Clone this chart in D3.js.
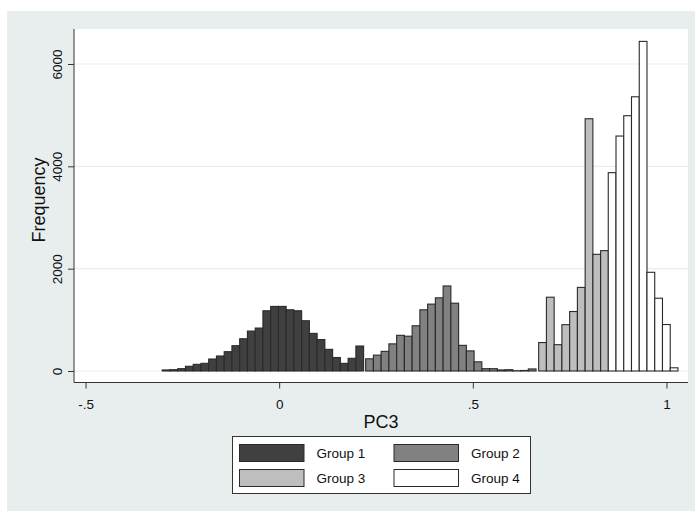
<!DOCTYPE html>
<html>
<head>
<meta charset="utf-8">
<script src="https://cdn.jsdelivr.net/npm/d3@7"></script>
<style>
  body { margin: 0; background: #fff; }
  text { font-family: "Liberation Sans", Arial, Helvetica, sans-serif; fill: #111; }
</style>
</head>
<body>
<div id="vis"></div>
<script>
// histogram bins, one list per group (width .02, each group has its own start)
const binWidth = 0.02;
const groupNames = ['Group 1', 'Group 2', 'Group 3', 'Group 4'];
const groupStarts = [-0.302, 0.2233, 0.670, 0.8497];
const group1 = [20, 25, 45, 92, 130, 150, 234, 293, 377, 494, 630, 780, 839,
  1177, 1262, 1262, 1196, 1177, 982, 735, 614, 423, 263, 150, 248, 488];
const group2 = [238, 310, 384, 530, 697, 680, 884, 1196, 1307, 1430, 1662, 1325,
  501, 393, 179, 45, 45, 20, 25, 5, 10, 40];
const group3 = [556, 1442, 514, 905, 1162, 1634, 4930, 2280, 2352];
const group4 = [3876, 4592, 4989, 5359, 6442, 1929, 1422, 908, 62];
const groupColours = ['#404040', '#818181', '#bebebe', '#ffffff'];

const xTicks = [-0.5, 0, 0.5, 1];
const xTickLabels = ['-.5', '0', '.5', '1'];
const yTicks = [0, 2000, 4000, 6000];

const W = 695, H = 511;
const margin = { top: 29, right: 7, bottom: 128.5, left: 74 };

const $svg = d3.select('#vis').append('svg')
  .attr('width', W)
  .attr('height', H);

// graph region
$svg.append('rect')
  .attr('x', 7).attr('y', 11)
  .attr('width', W - 7).attr('height', H - 11)
  .attr('fill', '#e8eeee');

const x = d3.scaleLinear()
  .domain([-0.5298, 1.0556])
  .range([margin.left, W - margin.right]);
const y = d3.scaleLinear()
  .domain([-225, 6684])
  .range([H - margin.bottom, margin.top]);

// plot region
$svg.append('rect')
  .attr('x', margin.left).attr('y', margin.top)
  .attr('width', W - margin.right - margin.left)
  .attr('height', H - margin.bottom - margin.top)
  .attr('fill', '#fff');

// grid
$svg.append('g').attr('class', 'grid')
  .selectAll('line')
  .data(yTicks)
  .enter().append('line')
  .attr('x1', margin.left).attr('x2', W - margin.right)
  .attr('y1', d => y(d)).attr('y2', d => y(d))
  .attr('stroke', '#e6eeee')
  .attr('stroke-width', 1.2);

// bars
const groups = [group1, group2, group3, group4].map((counts, g) => {
  return {
    name: groupNames[g],
    colour: groupColours[g],
    bins: counts.map((c, i) => ({
      x0: groupStarts[g] + i * binWidth,
      x1: groupStarts[g] + (i + 1) * binWidth,
      count: c
    }))
  };
});

const $bars = $svg.append('g').attr('class', 'bars');
groups.forEach(grp => {
  $bars.append('g')
    .selectAll('rect')
    .data(grp.bins)
    .enter().append('rect')
    .attr('x', d => x(d.x0))
    .attr('width', d => x(d.x1) - x(d.x0))
    .attr('y', d => y(d.count))
    .attr('height', d => y(0) - y(d.count))
    .attr('fill', grp.colour)
    .attr('stroke', '#2a2a2a')
    .attr('stroke-width', 1.1);
});

// axes
const xAxis = d3.axisBottom(x)
  .tickValues(xTicks)
  .tickFormat((d, i) => xTickLabels[i])
  .tickSize(6)
  .tickSizeOuter(0);
const yAxis = d3.axisLeft(y)
  .tickValues(yTicks)
  .tickFormat(d3.format('d'))
  .tickSize(6)
  .tickSizeOuter(0);

const $x = $svg.append('g')
  .attr('class', 'axis x')
  .attr('transform', `translate(0, ${H - margin.bottom})`)
  .call(xAxis);
$x.select('.domain').attr('d', `M${margin.left},0H${W - margin.right}`);
$x.selectAll('line, path').attr('stroke', '#333');
$x.selectAll('text')
  .attr('y', 17)
  .attr('font-size', 13.5)
  .attr('fill', '#111');

const $y = $svg.append('g')
  .attr('class', 'axis y')
  .attr('transform', `translate(${margin.left}, 0)`)
  .call(yAxis);
$y.select('.domain').attr('d', `M0,${margin.top}V${H - margin.bottom}`);
$y.selectAll('line, path').attr('stroke', '#333');
$y.selectAll('.tick text')
  .attr('x', 0)
  .attr('y', -12)
  .attr('dy', 0)
  .attr('transform', 'rotate(-90)')
  .attr('text-anchor', 'middle')
  .attr('font-size', 13.5)
  .attr('fill', '#111');

// titles
$svg.append('text')
  .attr('x', (margin.left + W - margin.right) / 2)
  .attr('y', 428)
  .attr('text-anchor', 'middle')
  .attr('font-size', 18)
  .text('PC3');

$svg.append('text')
  .attr('transform', 'translate(45, 200) rotate(-90)')
  .attr('text-anchor', 'middle')
  .attr('font-size', 18)
  .text('Frequency');

// legend
const $legend = $svg.append('g').attr('class', 'legend');
$legend.append('rect')
  .attr('x', 232.5).attr('y', 436.5)
  .attr('width', 298).attr('height', 57)
  .attr('fill', '#fff')
  .attr('stroke', '#333')
  .attr('stroke-width', 1);

const keyX = [239.5, 394];
const keyY = [444.5, 469.5];
const items = $legend.selectAll('.item')
  .data(groups)
  .enter().append('g')
  .attr('class', 'item')
  .attr('transform', (d, i) => `translate(${keyX[i % 2]}, ${keyY[Math.floor(i / 2)]})`);

items.append('rect')
  .attr('width', 64.5).attr('height', 17)
  .attr('fill', d => d.colour)
  .attr('stroke', '#2a2a2a')
  .attr('stroke-width', 1);

items.append('text')
  .attr('x', 77)
  .attr('y', 13.5)
  .attr('font-size', 13.5)
  .text(d => d.name);
</script>
</body>
</html>
